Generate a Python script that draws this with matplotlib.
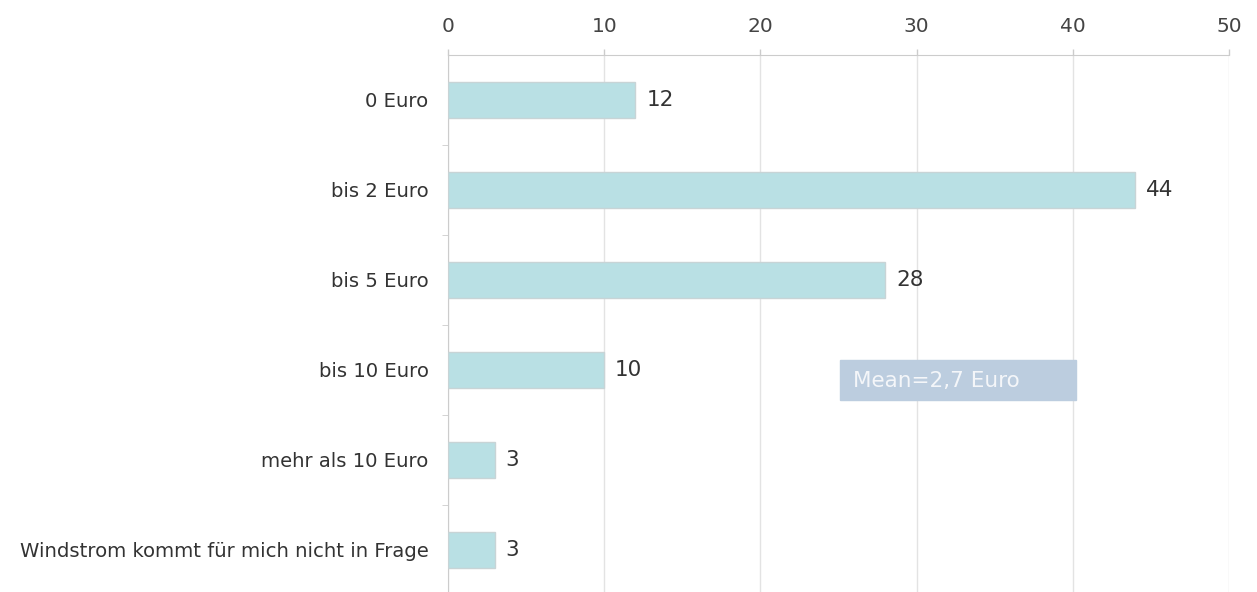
import matplotlib
matplotlib.use("Agg")
import matplotlib.pyplot as plt
import numpy as np

categories = ["0 Euro", "bis 2 Euro", "bis 5 Euro", "bis 10 Euro",
              "mehr als 10 Euro", "Windstrom kommt für mich nicht in Frage"]
values = [12, 44, 28, 10, 3, 3]
x_ticks = [0, 10, 20, 30, 40, 50]
mean_text = "Mean=2,7 Euro"

FONT = ["DejaVu Sans"]
plt.rcParams['font.family'] = FONT
plt.rcParams['font.sans-serif'] = FONT

fig = plt.figure(figsize=(12.57, 5.92), dpi=100)
ax = fig.add_axes([448 / 1257, 0.0, (1229 - 448) / 1257, 1 - 55 / 592])

y = np.arange(len(categories))
ax.barh(y, values, height=0.4, color="#b9e0e4", edgecolor="#c8d4d6", linewidth=1, zorder=3)
for yi, v in zip(y, values):
    ax.text(v + 0.7, yi, str(v), va="center", ha="left", fontsize=15.5,
            color="#333333", family=FONT)

ax.set_xlim(0, 50)
ax.set_ylim(5.467, -0.5)
ax.xaxis.tick_top()
ax.set_xticks(x_ticks)
ax.set_xticklabels([str(t) for t in x_ticks], fontsize=14.5, color="#444444", family=FONT)
ax.tick_params(axis="x", length=4, width=1, color="#cccccc", direction="out", pad=10)
ax.grid(axis="x", color="#e3e3e3", linewidth=1, zorder=0)

ax.set_yticks(y)
ax.set_yticklabels(categories, fontsize=14.1, color="#333333", family=FONT)
ax.tick_params(axis="y", length=0, pad=14)
ax.set_yticks(np.arange(0.5, len(categories) - 0.5), minor=True)
ax.tick_params(axis="y", which="minor", length=4, color="#cccccc", direction="out")

for s in ["right", "bottom"]:
    ax.spines[s].set_visible(False)
ax.spines["top"].set_color("#cccccc")
ax.spines["left"].set_color("#cccccc")

# mean annotation box
fig.patches.append(plt.Rectangle((840 / 1257, 1 - 400 / 592), 236 / 1257, 40 / 592,
                                 transform=fig.transFigure, color="#bccddf", zorder=5))
fig.text(853 / 1257, 1 - 381 / 592, mean_text, va="center", ha="left",
         fontsize=15.5, color="#f4f6f9", zorder=6, family=FONT)

fig.savefig("out.png", dpi=100)
